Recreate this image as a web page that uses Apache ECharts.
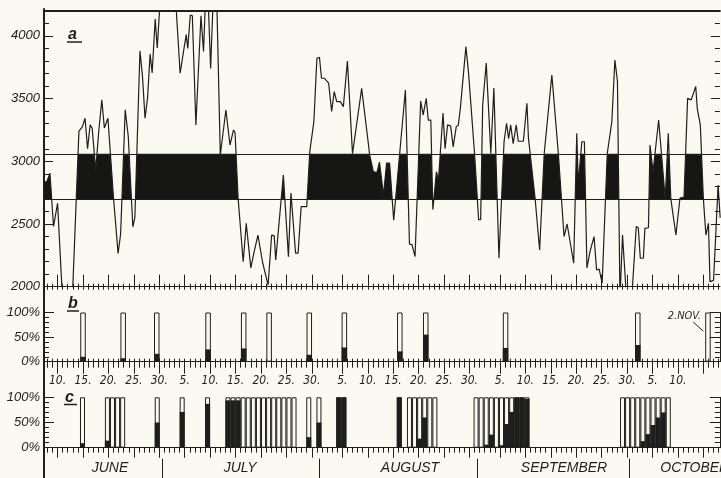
<!DOCTYPE html>
<html>
<head>
<meta charset="utf-8">
<title></title>
<style>
	html, body { margin: 0; padding: 0; background: #fbfaf0; }
	#chart { width: 721px; height: 478px; }
</style>
<script src="https://cdn.jsdelivr.net/npm/echarts@6.0.0/dist/echarts.min.js"></script>
</head>
<body>
<div id="chart"></div>
<script type="text/javascript">
	// a : daily curve (day 1 = 1 June)
	var aDays = [7.3,7.9,8.5,9.2,10.0,11.1,12.8,14.2,14.9,15.4,
		15.9,16.4,16.8,17.5,18.1,18.7,19.2,19.9,20.2,21.0,
		21.9,22.4,23.3,23.9,24.8,25.2,26.2,26.7,27.2,27.7,
		28.2,28.6,29.2,29.6,30.5,32.9,34.1,34.8,35.3,35.6,
		36.1,36.5,37.2,38.2,38.7,39.1,39.6,40.1,40.6,41.3,
		42.0,43.1,43.9,44.6,44.9,45.5,46.5,47.1,47.4,48.0,
		48.6,49.4,49.7,50.3,51.4,52.1,52.6,52.9,54.4,55.4,
		55.9,56.8,57.3,57.9,59.0,59.6,60.4,61.0,61.5,61.9,
		62.5,63.3,63.9,64.4,64.9,65.6,66.2,67.0,68.0,69.8,
		71.4,72.1,72.8,73.3,74.1,74.7,75.3,76.1,78.4,79.2,
		79.7,80.3,81.4,81.9,82.5,82.9,83.4,83.8,84.5,84.9,
		85.8,86.2,86.7,87.3,87.8,88.4,88.8,89.2,90.3,90.8,
		92.0,92.8,93.2,93.6,94.3,95.2,95.8,96.8,97.8,98.3,
		98.7,99.1,99.6,100.2,100.6,101.6,102.3,102.6,103.9,104.8,
		105.7,107.2,108.5,109.6,110.2,111.5,112.1,112.4,113.1,113.6,
		114.1,114.7,115.5,116.0,116.5,117.1,118.1,119.0,119.6,120.1,
		120.6,121.1,121.9,122.9,123.8,124.2,124.6,125.2,125.5,126.2,
		126.5,127.1,128.2,129.5,130.1,130.6,131.6,132.4,133.2,133.9,
		134.6,135.5,135.8,136.4,137.0,137.5,138.0,138.3,139.0,139.9,
		140.3];
	var aValues = [2830,2840,2905,2480,2665,1800,1800,3240,3276,3343,
		3100,3290,3265,2930,3240,3490,3265,3343,3335,2707,
		2265,2420,3410,3200,2478,2550,3880,3675,3343,3508,
		3855,3705,4135,3903,4500,4500,3702,3885,4010,3900,
		4167,4160,3290,4160,3875,4300,4300,3740,4300,4300,
		3050,3409,3130,3250,3230,2707,2199,2505,2500,2150,
		2268,2412,2405,2197,2013,2412,2405,2213,2891,2240,
		2747,2268,2268,2638,2638,3077,3316,3821,3830,3662,
		3662,3624,3397,3555,3476,3476,3436,3800,3060,3582,
		3045,2917,2910,2994,2731,2985,2985,2530,3569,2340,
		2335,2240,3480,3370,3502,3329,3329,2615,2917,2850,
		3384,3100,3290,3280,3115,3277,3285,3420,3914,3715,
		3062,2535,2535,3449,3783,3062,3585,2227,3156,3303,
		3180,3290,3140,3290,3160,3160,3463,3185,2707,2293,
		3062,3688,3050,2400,2500,2187,3224,2825,3156,3156,
		2150,2279,2399,2133,2140,2029,3062,3316,3808,3640,
		1900,2412,1900,1900,2479,2470,2227,2227,2465,2470,
		3130,2917,3329,2700,3224,2700,2412,2707,2715,3502,
		3490,3596,3420,3290,2700,2412,2505,2040,2050,2811,
		2550];
	var bandLimits = [2700, 3060];

	// b
	var bDays = [15, 22.9, 29.5, 39.6, 46.6, 51.6, 59.5, 66.4, 77.3, 82.4, 98.1, 124.1, 137.9];
	var bFill = [10, 7, 16, 25, 27, 0, 14, 29, 21, 55, 28, 34, 0];

	// c
	var cDays = [14.9, 19.8, 20.8, 21.8, 22.8, 29.6, 34.5, 39.5,
		43.5, 44.5, 45.5, 46.5, 47.5, 48.5, 49.5, 50.5, 51.5, 52.5, 53.5, 54.5, 55.5, 56.5,
		59.4, 61.4, 65.3, 66.3, 77.2,
		79.2, 80.2, 81.2, 82.2, 83.2, 84.2,
		92.3, 93.3, 94.3, 95.3, 96.3, 97.3, 98.3, 99.3, 100.3, 101.3, 102.3,
		121.1, 122.1, 123.1, 124.1, 125.1, 126.1, 127.1, 128.1, 129.1, 130.1];
	var cFill = [9, 14, 0, 0, 0, 50, 71, 87,
		94, 94, 94, 0, 0, 0, 0, 0, 0, 0, 0, 0, 0, 0,
		21, 50, 100, 100, 100,
		0, 0, 18, 60, 0, 0,
		0, 0, 6, 26, 0, 5, 47, 71, 100, 100, 97,
		0, 0, 0, 0, 13, 27, 45, 60, 70, 0];

	// time axis
	var tickDays = [10,15,20,25,30,35,40,45,50,55,60,66,71,76,81,86,91,97,102,107,112,117,122,127,132,137];
	var tickLabels = ['10.','15.','20.','25.','30.','5.','10.','15.','20.','25.','30.',
		'5.','10.','15.','20.','25.','30.','5.','10.','15.','20.','25.','30.','5.','10.'];
	var monthEdges = [30.5, 61.5, 92.5, 122.5];
	var monthCenters = [20.3, 45.9, 79.3, 109.6, 135.3];
	var monthNames = ['JUNE', 'JULY', 'AUGUST', 'SEPTEMBER', 'OCTOBER'];

	var dayMin = 7.33, dayMax = 140.25;
	var dailyTicks = [];
	for (var d = 8; d <= 140; d++) dailyTicks.push(d);

	var ink = '#1e1e1c';
	var fam = '"Liberation Sans", sans-serif';
	var narrow = '"DejaVu Sans Condensed", "Liberation Sans Narrow", "Liberation Sans", sans-serif';

	function merge(a, b) { for (var k in b) a[k] = b[k]; return a; }
	function line(w) { return {show: w > 0, onZero: false, lineStyle: {color: ink, width: w}}; }
	function ticks(values, len, inside) {
		return {show: true, customValues: values, length: len, inside: inside, lineStyle: {color: ink, width: 1}};
	}
	function vticks(len, inside) {
		return {show: true, length: len, inside: inside, lineStyle: {color: ink, width: 1}};
	}
	function dayAxis(grid, extra) {
		return merge({
			type: 'value', gridIndex: grid, min: dayMin, max: dayMax, position: 'bottom',
			axisLine: line(0), axisTick: {show: false}, axisLabel: {show: false}, splitLine: {show: false}
		}, extra || {});
	}
	function valAxis(grid, min, max, extra) {
		return merge({
			type: 'value', gridIndex: grid, min: min, max: max, position: 'left',
			axisLine: line(0), axisTick: {show: false}, axisLabel: {show: false}, splitLine: {show: false}
		}, extra || {});
	}
	function panel(top, height) {
		return {left: 44, right: 1.1, top: top, height: height, outerBoundsMode: 'none', containLabel: false};
	}
	var yLabel = {show: true, margin: 4, color: ink, fontSize: 13, fontStyle: 'italic', fontFamily: fam};

	var aData = aDays.map(function (d, i) { return [d, aValues[i]]; });

	var chart = echarts.init(document.getElementById('chart'));
	var option = {
		animation: false,
		backgroundColor: '#fbfaf0',
		grid: [
			panel(10.8, 275.9),
			panel(153.8, 45.1),
			panel(312.5, 49.2),
			panel(397.3, 50.4),
			panel(9, 470)
		],
		xAxis: [
			dayAxis(0, {axisLine: line(1.2), axisTick: ticks(dailyTicks, 3, true)}),
			dayAxis(0, {axisTick: ticks(dailyTicks, 3, false)}),
			dayAxis(0, {axisTick: ticks(tickDays, 12, true)}),
			dayAxis(0, {position: 'top', axisLine: line(2)}),
			dayAxis(1, {show: false}),
			dayAxis(2, {axisLine: line(1.2), axisTick: ticks(dailyTicks, 3, true)}),
			dayAxis(2, {axisTick: ticks(dailyTicks, 6, false),
				axisLabel: {show: true, customValues: tickDays.slice(0, tickLabels.length), margin: 13,
					color: ink, fontSize: 12, fontStyle: 'italic', fontFamily: narrow,
					formatter: function (v) { return tickLabels[tickDays.indexOf(v)]; }}}),
			dayAxis(2, {axisTick: ticks(tickDays, 12, false)}),
			dayAxis(3, {axisLine: line(1.2), axisTick: ticks(dailyTicks, 5, false)}),
			dayAxis(3, {axisTick: ticks(tickDays, 10, false)}),
			dayAxis(3, {offset: 11, axisTick: ticks(monthEdges, 20, false),
				axisLabel: {show: true, customValues: monthCenters, margin: 2,
					color: ink, fontSize: 14, fontStyle: 'italic', fontFamily: fam,
					formatter: function (v) { return monthNames[monthCenters.indexOf(v)]; }}}),
			dayAxis(4, {show: false})
		],
		yAxis: [
			valAxis(0, 2000, 4200, {interval: 500, axisTick: vticks(9, true),
				axisLabel: merge({showMaxLabel: false, formatter: function (v) { return String(v); }}, yLabel)}),
			valAxis(0, 2000, 4200, {interval: 100, axisTick: vticks(5, true)}),
			valAxis(0, 2000, 4200, {position: 'right', interval: 500, axisTick: vticks(9, true)}),
			valAxis(0, 2000, 4200, {position: 'right', interval: 100, axisTick: vticks(5, true)}),
			valAxis(1, bandLimits[0], bandLimits[1], {show: false}),
			valAxis(2, 0, 100, {interval: 50, axisTick: vticks(10, true),
				axisLabel: merge({formatter: function (v) { return v + '%'; }}, yLabel)}),
			valAxis(2, 0, 100, {interval: 10, axisTick: vticks(5, true)}),
			valAxis(2, 0, 100, {position: 'right', interval: 50, axisLine: line(1), axisTick: vticks(10, true)}),
			valAxis(2, 0, 100, {position: 'right', interval: 10, axisTick: vticks(5, true)}),
			valAxis(3, 0, 100, {interval: 50, axisTick: vticks(10, true),
				axisLabel: merge({formatter: function (v) { return v + '%'; }}, yLabel)}),
			valAxis(3, 0, 100, {interval: 10, axisTick: vticks(5, true)}),
			valAxis(3, 0, 100, {position: 'right', interval: 50, axisLine: line(1), axisTick: vticks(10, true)}),
			valAxis(3, 0, 100, {position: 'right', interval: 10, axisTick: vticks(5, true)}),
			valAxis(4, 0, 1, {axisLine: line(2)})
		],
		series: [
			{
				type: 'line', xAxisIndex: 0, yAxisIndex: 0, data: aData, symbol: 'none', z: 4,
				lineStyle: {color: ink, width: 1.2},
				markLine: {
					silent: true, symbol: ['none', 'none'], label: {show: false},
					lineStyle: {color: ink, width: 1, type: 'solid'},
					data: bandLimits.map(function (v) { return {yAxis: v}; })
				}
			},
			{
				type: 'line', xAxisIndex: 4, yAxisIndex: 4, data: aData, symbol: 'none', z: 2,
				lineStyle: {width: 0, opacity: 0},
				areaStyle: {color: '#161615', opacity: 1, origin: 'start'}
			},
			{
				type: 'bar', xAxisIndex: 5, yAxisIndex: 5, barWidth: 5.5, barGap: '-100%',
				data: bDays.map(function (d, i) { return [d, bFill[i]]; }),
				itemStyle: {color: ink}
			},
			{
				type: 'bar', xAxisIndex: 5, yAxisIndex: 5, barWidth: 5.5, barGap: '-100%',
				data: bDays.map(function (d) { return [d, 100]; }),
				itemStyle: {color: 'rgba(0,0,0,0)', borderColor: ink, borderWidth: 1},
				markLine: {
					silent: true, symbol: ['none', 'none'], label: {show: false},
					lineStyle: {color: ink, width: 1, type: 'solid'},
					data: [[{coord: [135.0, 80.6]}, {coord: [137.0, 62]}]]
				}
			},
			{
				type: 'bar', xAxisIndex: 8, yAxisIndex: 9, barWidth: 5, barGap: '-100%',
				data: cDays.map(function (d, i) { return [d, cFill[i]]; }),
				itemStyle: {color: ink}
			},
			{
				type: 'bar', xAxisIndex: 8, yAxisIndex: 9, barWidth: 5, barGap: '-100%',
				data: cDays.map(function (d) { return [d, 100]; }),
				itemStyle: {color: 'rgba(0,0,0,0)', borderColor: ink, borderWidth: 1}
			}
		],
		graphic: [
			{type: 'text', x: 68, y: 35, style: {text: 'a', fill: ink, font: 'italic bold 16px ' + fam, verticalAlign: 'middle'}},
			{type: 'line', shape: {x1: 67, y1: 42, x2: 82, y2: 42}, style: {stroke: ink, lineWidth: 1.5}},
			{type: 'text', x: 68, y: 304, style: {text: 'b', fill: ink, font: 'italic bold 16px ' + fam, verticalAlign: 'middle'}},
			{type: 'line', shape: {x1: 67, y1: 311, x2: 79, y2: 311}, style: {stroke: ink, lineWidth: 1.5}},
			{type: 'text', x: 65, y: 398, style: {text: 'c', fill: ink, font: 'italic bold 16px ' + fam, verticalAlign: 'middle'}},
			{type: 'line', shape: {x1: 64, y1: 404.5, x2: 77, y2: 404.5}, style: {stroke: ink, lineWidth: 1.5}},
			{type: 'text', x: 701, y: 316, style: {text: '2.NOV.', fill: ink, font: 'italic 11px ' + narrow, align: 'right', verticalAlign: 'middle'}}
		]
	};
	chart.setOption(option);
</script>
</body>
</html>
